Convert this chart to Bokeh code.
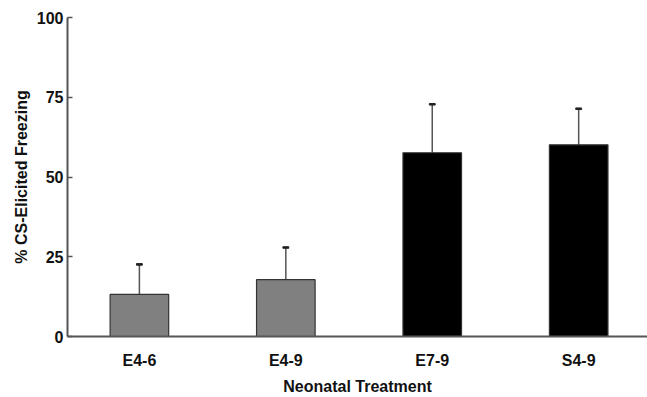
from bokeh.plotting import figure
from bokeh.models import ColumnDataSource, FixedTicker, Range1d
from bokeh.embed import file_html
from bokeh.resources import INLINE

groups = ["E4-6", "E4-9", "E7-9", "S4-9"]
means = [13.2, 17.8, 57.6, 60.1]
sem_upper = [22.6, 27.9, 72.8, 71.4]
colors = ["#808080", "#808080", "#000000", "#000000"]
xpos = [1, 2, 3, 4]

src = ColumnDataSource(dict(x=xpos, top=means, err=sem_upper, color=colors))

p = figure(width=647, height=397, output_backend="svg", toolbar_location=None,
           x_range=Range1d(0.509, 4.47), y_range=Range1d(0, 100),
           min_border_left=67, min_border_right=0, min_border_top=17, min_border_bottom=61)

p.segment(x0="x", y0="top", x1="x", y1="err", source=src, line_color="#555555", line_width=1.5)
p.rect(x="x", y="err", width=0.04, height=0.5, source=src, fill_color="#222222", line_color="#222222")
p.vbar(x="x", top="top", bottom=0, width=0.40, source=src, fill_color="color",
       line_color="#333333", line_width=1.2)

p.grid.visible = False
p.outline_line_color = None
p.background_fill_color = "white"

font = "Liberation Sans"
p.yaxis.ticker = FixedTicker(ticks=[0, 25, 50, 75, 100])
p.yaxis.minor_tick_line_color = None
p.yaxis.major_tick_in = 5
p.yaxis.major_tick_out = 0
p.yaxis.axis_line_color = "#555555"
p.yaxis.axis_line_width = 2
p.yaxis.major_tick_line_color = "#555555"
p.yaxis.major_tick_line_width = 1.5
p.yaxis.major_label_text_font = font
p.yaxis.major_label_text_font_style = "bold"
p.yaxis.major_label_text_font_size = "16px"
p.yaxis.major_label_text_color = "#111111"
p.yaxis.major_label_standoff = 4
p.yaxis.axis_label = "% CS-Elicited Freezing"
p.yaxis.axis_label_text_font = font
p.yaxis.axis_label_text_font_style = "bold"
p.yaxis.axis_label_text_font_size = "16px"
p.yaxis.axis_label_text_color = "#111111"
p.yaxis.axis_label_standoff = 4

p.xaxis.ticker = FixedTicker(ticks=xpos)
p.xaxis.major_label_overrides = {x: g for x, g in zip(xpos, groups)}
p.xaxis.minor_tick_line_color = None
p.xaxis.major_tick_line_color = None
p.xaxis.axis_line_color = "#555555"
p.xaxis.axis_line_width = 2
p.xaxis.major_label_text_font = font
p.xaxis.major_label_text_font_style = "bold"
p.xaxis.major_label_text_font_size = "16px"
p.xaxis.major_label_text_color = "#111111"
p.xaxis.major_label_standoff = 9
p.xaxis.axis_label = "Neonatal Treatment"
p.xaxis.axis_label_text_font = font
p.xaxis.axis_label_text_font_style = "bold"
p.xaxis.axis_label_text_font_size = "16px"
p.xaxis.axis_label_text_color = "#111111"
p.xaxis.axis_label_standoff = 6

open("out.html", "w").write(file_html(p, INLINE))
